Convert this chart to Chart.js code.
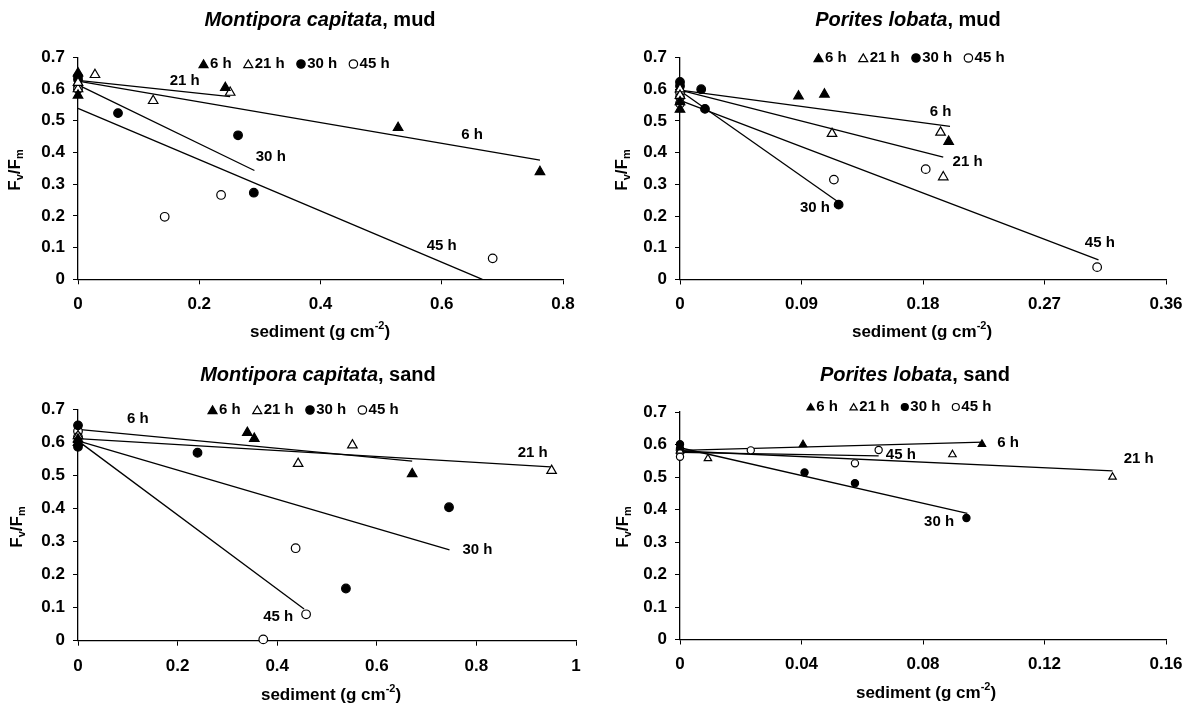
<!DOCTYPE html>
<html>
<head>
    <title>Fv/Fm versus sediment load</title>
    <script src="https://cdn.jsdelivr.net/npm/chart.js@4.4.0/dist/chart.umd.min.js"></script>
    <style>
        body {
            margin: 0;
            background: #fff;
        }
        #figure {
            position: relative;
            width: 1202px;
            height: 706px;
        }
        #figure canvas {
            position: absolute;
            width: 601px;
            height: 353px;
        }
    </style>
</head>
<body>
    <div id="figure">
        <canvas id="mc-mud" width="601" height="353" style="left:0px;top:0px"></canvas>
        <canvas id="pl-mud" width="601" height="353" style="left:601px;top:0px"></canvas>
        <canvas id="mc-sand" width="601" height="353" style="left:0px;top:353px"></canvas>
        <canvas id="pl-sand" width="601" height="353" style="left:601px;top:353px"></canvas>
    </div>

    <script>
        // ---- data: [sediment g cm-2, Fv/Fm] ----
        const seriesNames = ['6 h', '21 h', '30 h', '45 h'];
        const yTicks = [0, 0.1, 0.2, 0.3, 0.4, 0.5, 0.6, 0.7];

        // Montipora capitata, mud
        const mcMudXTicks = [0, 0.2, 0.4, 0.6, 0.8];
        const mcMud6h = [[0, 0.65], [0, 0.58], [0.243, 0.604], [0.528, 0.478], [0.762, 0.339]];
        const mcMud21h = [[0, 0.60], [0, 0.62], [0.028, 0.645], [0.124, 0.563], [0.251, 0.589]];
        const mcMud30h = [[0, 0.64], [0, 0.63], [0.066, 0.524], [0.264, 0.454], [0.29, 0.273]];
        const mcMud45h = [[0, 0.61], [0, 0.60], [0.143, 0.197], [0.236, 0.266], [0.684, 0.066]];
        const mcMudFit6h = [[0, 0.625], [0.762, 0.376]];
        const mcMudFit21h = [[0, 0.627], [0.251, 0.576]];
        const mcMudFit30h = [[0, 0.613], [0.291, 0.343]];
        const mcMudFit45h = [[0, 0.539], [0.667, 0]];
        const mcMudLabels = [['21 h', 0.176, 0.626], ['6 h', 0.65, 0.455], ['30 h', 0.318, 0.385], ['45 h', 0.6, 0.105]];

        // Porites lobata, mud
        const plMudXTicks = [0, 0.09, 0.18, 0.27, 0.36];
        const plMud6h = [[0, 0.536], [0, 0.56], [0.0878, 0.578], [0.107, 0.584], [0.199, 0.435]];
        const plMud21h = [[0, 0.60], [0, 0.58], [0.1126, 0.46], [0.193, 0.464], [0.195, 0.323]];
        const plMud30h = [[0, 0.623], [0, 0.61], [0.0157, 0.60], [0.0185, 0.538], [0.1175, 0.236]];
        const plMud45h = [[0, 0.59], [0, 0.575], [0, 0.555], [0.114, 0.315], [0.182, 0.348], [0.309, 0.039]];
        const plMudFit6h = [[0, 0.597], [0.2, 0.483]];
        const plMudFit21h = [[0, 0.597], [0.195, 0.386]];
        const plMudFit30h = [[0, 0.595], [0.117, 0.245]];
        const plMudFit45h = [[0, 0.565], [0.31, 0.062]];
        const plMudLabels = [['6 h', 0.193, 0.53], ['21 h', 0.213, 0.372], ['30 h', 0.1, 0.226], ['45 h', 0.311, 0.116]];

        // Montipora capitata, sand
        const mcSandXTicks = [0, 0.2, 0.4, 0.6, 0.8, 1];
        const mcSand6h = [[0, 0.60], [0, 0.61], [0.34, 0.63], [0.354, 0.612], [0.671, 0.505]];
        const mcSand21h = [[0, 0.62], [0.442, 0.536], [0.551, 0.592], [0.951, 0.515]];
        const mcSand30h = [[0, 0.652], [0, 0.587], [0.24, 0.569], [0.538, 0.158], [0.745, 0.404]];
        const mcSand45h = [[0, 0.634], [0, 0.617], [0.437, 0.28], [0.458, 0.08], [0.372, 0.004]];
        const mcSandFit6h = [[0, 0.64], [0.671, 0.544]];
        const mcSandFit21h = [[0, 0.612], [0.949, 0.526]];
        const mcSandFit30h = [[0, 0.605], [0.746, 0.275]];
        const mcSandFit45h = [[0, 0.605], [0.454, 0.096]];
        const mcSandLabels = [['6 h', 0.12, 0.671], ['21 h', 0.913, 0.57], ['30 h', 0.802, 0.275], ['45 h', 0.402, 0.071]];

        // Porites lobata, sand
        const plSandXTicks = [0, 0.04, 0.08, 0.12, 0.16];
        const plSand6h = [[0, 0.59], [0.0405, 0.600], [0.0994, 0.601]];
        const plSand21h = [[0, 0.58], [0.0092, 0.557], [0.0897, 0.569], [0.1424, 0.50]];
        const plSand30h = [[0, 0.601], [0.041, 0.514], [0.0576, 0.481], [0.0943, 0.374]];
        const plSand45h = [[0, 0.588], [0, 0.575], [0, 0.562], [0.0233, 0.582], [0.0576, 0.542], [0.0654, 0.583]];
        const plSandFit6h = [[0, 0.582], [0.0998, 0.607]];
        const plSandFit21h = [[0, 0.58], [0.1424, 0.519]];
        const plSandFit30h = [[0, 0.59], [0.0946, 0.388]];
        const plSandFit45h = [[0, 0.576], [0.0654, 0.565]];
        const plSandLabels = [['6 h', 0.108, 0.604], ['21 h', 0.151, 0.555], ['30 h', 0.0853, 0.362], ['45 h', 0.0727, 0.569]];

        // ---- styling / layout ----
        const FONT = '"Liberation Sans", Arial, Helvetica, sans-serif';
        Chart.defaults.font.family = FONT;
        Chart.defaults.color = '#000';

        const markerStyles = [
            { shape: 'triangle', fill: '#000' },
            { shape: 'triangle', fill: '#fff' },
            { shape: 'circle', fill: '#000' },
            { shape: 'circle', fill: '#fff' }
        ];

        const panels = [
            {
                id: 'mc-mud', species: 'Montipora capitata', rest: ', mud',
                points: [mcMud6h, mcMud21h, mcMud30h, mcMud45h],
                fits: [mcMudFit6h, mcMudFit21h, mcMudFit30h, mcMudFit45h],
                labels: mcMudLabels, xTicks: mcMudXTicks,
                box: { left: 78, top: 57.3, right: 563, bottom: 279.3 },
                title: [320, 20], legend: [199, 64], xTitle: [320, 332], yTitle: [15, 170],
                tri: 5.5, circ: 4.3, legTri: 5.2, legCirc: 4.2
            },
            {
                id: 'pl-mud', species: 'Porites lobata', rest: ', mud',
                points: [plMud6h, plMud21h, plMud30h, plMud45h],
                fits: [plMudFit6h, plMudFit21h, plMudFit30h, plMudFit45h],
                labels: plMudLabels, xTicks: plMudXTicks,
                box: { left: 79, top: 57.5, right: 565, bottom: 279.5 },
                title: [307, 20], legend: [213, 58], xTitle: [321, 332], yTitle: [21, 170],
                tri: 5.5, circ: 4.3, legTri: 5.2, legCirc: 4.2
            },
            {
                id: 'mc-sand', species: 'Montipora capitata', rest: ', sand',
                points: [mcSand6h, mcSand21h, mcSand30h, mcSand45h],
                fits: [mcSandFit6h, mcSandFit21h, mcSandFit30h, mcSandFit45h],
                labels: mcSandLabels, xTicks: mcSandXTicks,
                box: { left: 78, top: 56.5, right: 576, bottom: 287.7 },
                title: [318, 22], legend: [208, 57], xTitle: [331, 342], yTitle: [17, 174],
                tri: 5.5, circ: 4.3, legTri: 5.2, legCirc: 4.2
            },
            {
                id: 'pl-sand', species: 'Porites lobata', rest: ', sand',
                points: [plSand6h, plSand21h, plSand30h, plSand45h],
                fits: [plSandFit6h, plSandFit21h, plSandFit30h, plSandFit45h],
                labels: plSandLabels, xTicks: plSandXTicks,
                box: { left: 79, top: 59, right: 565, bottom: 286.5 },
                title: [314, 22], legend: [206, 54], xTitle: [325, 340], yTitle: [22, 174],
                tri: 4.3, circ: 3.6, legTri: 4.2, legCirc: 3.5
            }
        ];

        function toXY(pairs) {
            return pairs.map(p => ({ x: p[0], y: p[1] }));
        }

        function marker(ctx, shape, fill, x, y, r) {
            ctx.save();
            ctx.beginPath();
            if (shape === 'triangle') {
                ctx.moveTo(x, y - r);
                ctx.lineTo(x + 0.866 * r, y + 0.5 * r);
                ctx.lineTo(x - 0.866 * r, y + 0.5 * r);
                ctx.closePath();
            } else {
                ctx.arc(x, y, r, 0, Math.PI * 2);
            }
            ctx.fillStyle = fill;
            ctx.strokeStyle = '#000';
            ctx.lineWidth = 1.2;
            ctx.fill();
            ctx.stroke();
            ctx.restore();
        }

        // draw pieces of text with sub/superscripts; parts = [text, size, dy]
        function drawParts(ctx, parts, cx, cy) {
            let total = 0;
            parts.forEach(p => {
                ctx.font = 'bold ' + p[1] + 'px ' + FONT;
                total += ctx.measureText(p[0]).width;
            });
            let x = cx - total / 2;
            ctx.textAlign = 'left';
            ctx.textBaseline = 'middle';
            parts.forEach(p => {
                ctx.font = 'bold ' + p[1] + 'px ' + FONT;
                ctx.fillText(p[0], x, cy + p[2]);
                x += ctx.measureText(p[0]).width;
            });
        }

        function textPlugin(panel) {
            return {
                id: 'panelText',
                afterDraw(chart) {
                    const ctx = chart.ctx;
                    const xs = chart.scales.x, ys = chart.scales.y;
                    ctx.save();
                    ctx.fillStyle = '#000';

                    // title: italic species + plain substrate
                    ctx.font = 'italic bold 20px ' + FONT;
                    const w1 = ctx.measureText(panel.species).width;
                    ctx.font = 'bold 20px ' + FONT;
                    const w2 = ctx.measureText(panel.rest).width;
                    let tx = panel.title[0] - (w1 + w2) / 2;
                    ctx.textAlign = 'left';
                    ctx.textBaseline = 'middle';
                    ctx.font = 'italic bold 20px ' + FONT;
                    ctx.fillText(panel.species, tx, panel.title[1]);
                    ctx.font = 'bold 20px ' + FONT;
                    ctx.fillText(panel.rest, tx + w1, panel.title[1]);

                    // legend row
                    let lx = panel.legend[0];
                    const ly = panel.legend[1];
                    ctx.font = 'bold 15px ' + FONT;
                    seriesNames.forEach((name, i) => {
                        const st = markerStyles[i];
                        if (st.shape === 'triangle') {
                            marker(ctx, st.shape, st.fill, lx + panel.legTri * 0.87, ly + panel.legTri * 0.2, panel.legTri);
                            lx += panel.legTri * 1.74 + 2;
                        } else {
                            marker(ctx, st.shape, st.fill, lx + panel.legCirc, ly, panel.legCirc);
                            lx += panel.legCirc * 2 + 2;
                        }
                        ctx.font = 'bold 15px ' + FONT;
                        ctx.textAlign = 'left';
                        ctx.textBaseline = 'middle';
                        ctx.fillText(name, lx, ly);
                        lx += ctx.measureText(name).width + 12;
                    });

                    // labels next to the fitted lines
                    ctx.font = 'bold 15px ' + FONT;
                    ctx.textAlign = 'center';
                    ctx.textBaseline = 'middle';
                    panel.labels.forEach(l => {
                        ctx.fillText(l[0], xs.getPixelForValue(l[1]), ys.getPixelForValue(l[2]));
                    });

                    // x axis title
                    drawParts(ctx, [['sediment (g cm', 17, 0], ['-2', 11, -6], [')', 17, 0]],
                        panel.xTitle[0], panel.xTitle[1]);

                    // y axis title, rotated
                    ctx.translate(panel.yTitle[0], panel.yTitle[1]);
                    ctx.rotate(-Math.PI / 2);
                    drawParts(ctx, [['F', 17, 0], ['v', 11, 5], ['/F', 17, 0], ['m', 11, 5]], 0, 0);
                    ctx.restore();
                }
            };
        }

        function makePanel(panel) {
            const canvas = document.getElementById(panel.id);
            const W = canvas.width, H = canvas.height;
            const xTicks = panel.xTicks;

            const datasets = [];
            panel.points.forEach((pts, i) => {
                const st = markerStyles[i];
                datasets.push({
                    label: seriesNames[i],
                    data: toXY(pts),
                    pointStyle: st.shape,
                    pointRadius: st.shape === 'triangle' ? panel.tri : panel.circ,
                    pointHoverRadius: st.shape === 'triangle' ? panel.tri : panel.circ,
                    pointBackgroundColor: st.fill,
                    pointBorderColor: '#000',
                    pointBorderWidth: 1.2,
                    showLine: false,
                    clip: false,
                    order: 1
                });
            });
            panel.fits.forEach((fit, i) => {
                datasets.push({
                    label: seriesNames[i] + ' fit',
                    data: toXY(fit),
                    showLine: true,
                    borderColor: '#000',
                    borderWidth: 1.3,
                    pointRadius: 0,
                    pointHoverRadius: 0,
                    clip: false,
                    order: 2
                });
            });

            return new Chart(canvas, {
                type: 'scatter',
                data: { datasets: datasets },
                options: {
                    responsive: false,
                    animation: false,
                    layout: {
                        padding: {
                            left: 0,
                            top: panel.box.top,
                            right: W - panel.box.right,
                            bottom: 0
                        }
                    },
                    plugins: {
                        legend: { display: false },
                        tooltip: { enabled: false }
                    },
                    scales: {
                        x: {
                            type: 'linear',
                            min: xTicks[0],
                            max: xTicks[xTicks.length - 1],
                            afterBuildTicks: scale => {
                                scale.ticks = xTicks.map(v => ({ value: v }));
                            },
                            afterFit: scale => {
                                scale.height = H - panel.box.bottom;
                            },
                            ticks: {
                                autoSkip: false,
                                maxRotation: 0,
                                padding: 10,
                                font: { size: 17, weight: 'bold' },
                                callback: (v, i) => String(xTicks[i])
                            },
                            grid: {
                                drawOnChartArea: false,
                                drawTicks: true,
                                tickLength: 5,
                                color: '#000',
                                lineWidth: 1
                            },
                            border: { display: true, color: '#000', width: 1.3 }
                        },
                        y: {
                            type: 'linear',
                            min: 0,
                            max: 0.7,
                            afterBuildTicks: scale => {
                                scale.ticks = yTicks.map(v => ({ value: v }));
                            },
                            afterFit: scale => {
                                scale.width = panel.box.left;
                            },
                            ticks: {
                                autoSkip: false,
                                padding: 8,
                                font: { size: 17, weight: 'bold' },
                                callback: (v, i) => String(yTicks[i])
                            },
                            grid: {
                                drawOnChartArea: false,
                                drawTicks: true,
                                tickLength: 5,
                                color: '#000',
                                lineWidth: 1
                            },
                            border: { display: true, color: '#000', width: 1.3 }
                        }
                    }
                },
                plugins: [textPlugin(panel)]
            });
        }

        panels.forEach(makePanel);
    </script>
</body>
</html>
